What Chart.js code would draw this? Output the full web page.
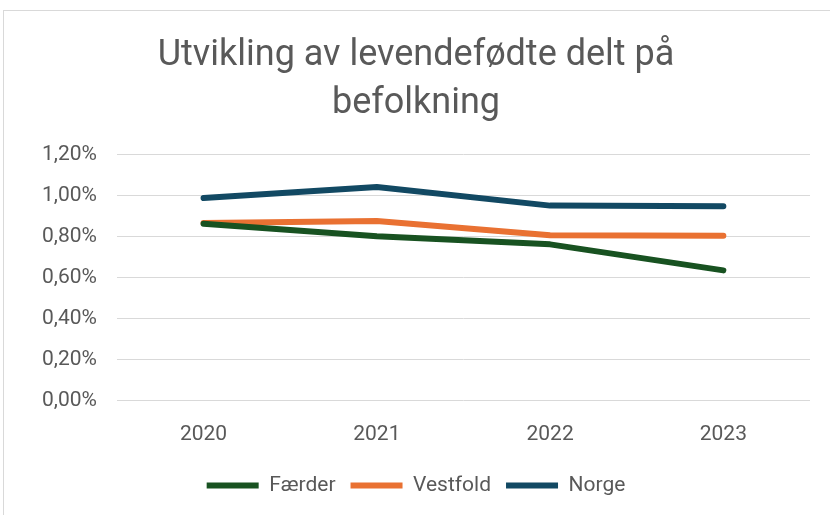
<!DOCTYPE html>
<html><head><meta charset="utf-8">
<script src="https://cdn.jsdelivr.net/npm/chart.js@4/dist/chart.umd.min.js"></script>
<style>
html,body{margin:0;padding:0;background:#fff;}
#wrap{position:absolute;left:0;top:0;width:830px;height:515px;}
#frame{position:absolute;left:3px;top:10px;width:840px;height:520px;border:1px solid #d9d9d9;box-sizing:border-box;}
canvas{position:absolute;left:0;top:0;}
</style></head>
<body>
<div id="wrap"><div id="frame"></div><canvas id="c" width="830" height="515"></canvas></div>
<script>
const categories = ['2020','2021','2022','2023'];
const faerder = [0.864, 0.802, 0.763, 0.636];
const vestfold = [0.867, 0.877, 0.807, 0.805];
const norge = [0.989, 1.043, 0.952, 0.949];
const titleLines = ['Utvikling av levendefødte delt på', 'befolkning'];
const FONT = "'Roboto', sans-serif";

const mk = (label, data, color) => ({label, data, borderColor: color, backgroundColor: color,
  borderWidth: 6, pointRadius: 0, tension: 0, borderCapStyle: 'round', borderJoinStyle: 'round', fill: false});

new Chart(document.getElementById('c'), {
  type: 'line',
  data: {labels: categories, datasets: [
    mk('Færder', faerder, '#185221'),
    mk('Vestfold', vestfold, '#e97132'),
    mk('Norge', norge, '#124963')
  ]},
  options: {
    responsive: false, animation: false, devicePixelRatio: 1,
    layout: {padding: {left: 22, right: 20, top: 32, bottom: 9}},
    plugins: {
      title: {display: true, text: titleLines, color: '#595959',
        font: {family: FONT, size: 36, weight: 'normal', lineHeight: 1.33}, padding: {top: 0, bottom: 27}},
      legend: {position: 'bottom', labels: {color: '#595959', font: {family: FONT, size: 21},
        usePointStyle: true, pointStyle: 'line', pointStyleWidth: 52, boxHeight: 6, padding: 15}},
      tooltip: {enabled: false}
    },
    scales: {
      x: {offset: true, grid: {display: false}, border: {display: false},
        ticks: {color: '#595959', font: {family: FONT, size: 21}, padding: 13}},
      y: {min: 0, max: 1.2, grid: {color: '#d9d9d9', lineWidth: 1, drawTicks: false}, border: {display: false},
        ticks: {stepSize: 0.2, color: '#595959', font: {family: FONT, size: 21}, padding: 20,
          callback: v => v.toFixed(2).replace('.', ',') + '%'}}
    }
  }
});
</script>
</body></html>
